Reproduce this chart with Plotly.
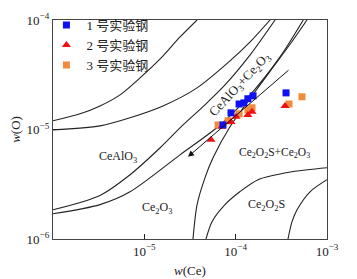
import plotly.graph_objects as go

# ---- data ----
steel1_ce = [7.26e-5, 8.89e-5, 1.09e-4, 1.23e-4, 1.36e-4, 1.55e-4, 3.56e-4]
steel1_o = [1.10e-5, 1.42e-5, 1.71e-5, 1.75e-5, 1.91e-5, 2.03e-5, 2.16e-5]
steel2_ce = [5.37e-5, 7.08e-5, 8.89e-5, 1.01e-4, 1.36e-4, 1.51e-4, 3.47e-4]
steel2_o = [8.05e-6, 1.06e-5, 1.17e-5, 1.31e-5, 1.36e-5, 1.45e-5, 1.64e-5]
steel3_ce = [6.41e-5, 8.24e-5, 1.09e-4, 1.36e-4, 1.51e-4, 3.84e-4, 5.32e-4]
steel3_o = [1.10e-5, 1.20e-5, 1.39e-5, 1.51e-5, 1.58e-5, 1.71e-5, 1.99e-5]

curveA_ce = [1e-6, 1.98e-6, 3.27e-6, 5.42e-6, 8.97e-6, 1.49e-5, 2.46e-5, 3.78e-5]
curveA_o = [1.20e-5, 1.39e-5, 1.64e-5, 2.07e-5, 2.96e-5, 4.41e-5, 7.00e-5, 1e-4]
curveB_ce = [1e-6, 3.27e-6, 6.97e-6, 1.60e-5, 3.78e-5, 8.67e-5, 1.44e-4, 2.38e-4]
curveB_o = [9.93e-6, 1.08e-5, 1.28e-5, 1.64e-5, 2.40e-5, 4.23e-5, 6.30e-5, 1e-4]
curveC_ce = [1e-6, 3.27e-6, 6.97e-6, 1.49e-5, 2.65e-5, 4.61e-5, 7.64e-5, 1.44e-4, 2.70e-4]
curveC_o = [1.85e-6, 2.50e-6, 3.86e-6, 6.81e-6, 1.10e-5, 1.68e-5, 2.55e-5, 4.80e-5, 1e-4]
curveD_ce = [1e-6, 3.27e-6, 6.97e-6, 2.46e-5, 6.75e-5, 1.44e-4, 3.06e-4, 5.50e-4]
curveD_o = [1.70e-6, 2.06e-6, 2.70e-6, 5.87e-6, 1.10e-5, 2.07e-5, 4.60e-5, 1e-4]
curveE_ce = [3.41e-5, 3.78e-5, 4.61e-5, 5.65e-5, 8.67e-5, 1.44e-4, 2.38e-4, 3.94e-4, 6.04e-4]
curveE_o = [1e-6, 2.06e-6, 3.62e-6, 5.52e-6, 1.06e-5, 1.92e-5, 3.40e-5, 6.00e-5, 1e-4]
curveF_ce = [4.73e-5, 5.51e-5, 7.64e-5, 1.11e-4, 1.76e-4, 4.14e-4, 1e-3]
curveF_o = [1e-6, 1.44e-6, 2.06e-6, 2.70e-6, 3.48e-6, 4.11e-6, 4.47e-6]
curveG_ce = [3.74e-4, 4.14e-4, 4.70e-4, 6.52e-4, 1e-3]
curveG_o = [1e-6, 1.44e-6, 1.85e-6, 2.70e-6, 3.48e-6]

x_ticks = [1e-5, 1e-4, 1e-3]
x_ticklabels = ["10<sup>−5</sup>", "10<sup>−4</sup>", "10<sup>−3</sup>"]
y_ticks = [1e-6, 1e-5, 1e-4]
y_ticklabels = ["10<sup>−6</sup>", "10<sup>−5</sup>", "10<sup>−4</sup>"]

legend_names = ["1 号实验钢", "2 号实验钢", "3 号实验钢"]

SERIF = "Liberation Serif"
CJK = "Liberation Serif, Noto Sans CJK SC"
INK = "#222222"

fig = go.Figure()

line_style = dict(color=INK, width=1.1, shape="spline", smoothing=0.8)
for cx, cy in [(curveA_ce, curveA_o), (curveB_ce, curveB_o), (curveC_ce, curveC_o),
               (curveD_ce, curveD_o), (curveE_ce, curveE_o), (curveF_ce, curveF_o),
               (curveG_ce, curveG_o)]:
    fig.add_trace(go.Scatter(x=cx, y=cy, mode="lines", line=line_style,
                             showlegend=False, hoverinfo="skip"))

fig.add_trace(go.Scatter(x=steel3_ce, y=steel3_o, mode="markers", name=legend_names[2],
                         marker=dict(symbol="square", size=7, color="#F08A3C"),
                         legendrank=3))
fig.add_trace(go.Scatter(x=steel2_ce, y=steel2_o, mode="markers", name=legend_names[1],
                         marker=dict(symbol="triangle-up", size=8, color="#F01010"),
                         legendrank=2))
fig.add_trace(go.Scatter(x=steel1_ce, y=steel1_o, mode="markers", name=legend_names[0],
                         marker=dict(symbol="square", size=7, color="#1010F0"),
                         legendrank=1))

labels = [
    (-5.288, -5.249, "CeAlO<sub>3</sub>", 0, 12),
    (-4.860, -5.714, "Ce<sub>2</sub>O<sub>3</sub>", 0, 12),
    (-3.580, -5.213, "Ce<sub>2</sub>O<sub>2</sub>S+Ce<sub>2</sub>O<sub>3</sub>", 0, 11.5),
    (-3.657, -5.687, "Ce<sub>2</sub>O<sub>2</sub>S", 0, 12),
    (-3.950, -4.590, "CeAlO<sub>3</sub>+Ce<sub>2</sub>O<sub>3</sub>", -47, 13),
]
for lx, ly, t, ang, fs in labels:
    fig.add_annotation(x=lx, y=ly, xref="x", yref="y", text=t, showarrow=False,
                       textangle=ang, font=dict(family=SERIF, size=fs, color=INK))

# arrow
fig.add_annotation(x=-4.522, y=-5.249, ax=-3.405, ay=-4.447, xref="x", yref="y",
                   axref="x", ayref="y", text="", showarrow=True, arrowhead=2,
                   arrowsize=1.2, arrowwidth=1, arrowcolor="#111111")

axis_common = dict(type="log", showgrid=False, zeroline=False, showline=True,
                   linecolor="#444444", linewidth=1.2, mirror=True, ticks="inside",
                   ticklen=5, tickcolor=INK, automargin=False,
                   tickfont=dict(family=SERIF, size=13, color=INK))

fig.update_xaxes(**axis_common, range=[-6, -3], tickvals=x_ticks, ticktext=x_ticklabels,
                 title=dict(text="<i>w</i>(Ce)", font=dict(family=SERIF, size=13, color=INK),
                            standoff=8))
fig.update_yaxes(**axis_common, range=[-6, -4], tickvals=y_ticks, ticktext=y_ticklabels,
                 title=dict(text="<i>w</i>(O)", font=dict(family=SERIF, size=13, color=INK),
                            standoff=6))

fig.update_layout(
    width=349, height=271,
    margin=dict(l=45, r=30, t=12, b=40, autoexpand=False),
    paper_bgcolor="white", plot_bgcolor="white",
    showlegend=True,
    legend=dict(x=-0.024, y=1.045, xanchor="left", yanchor="top", bgcolor="rgba(0,0,0,0)",
                font=dict(family=CJK, size=13, color=INK), tracegroupgap=0,
                itemwidth=30),
)

fig.write_html("out.html")
